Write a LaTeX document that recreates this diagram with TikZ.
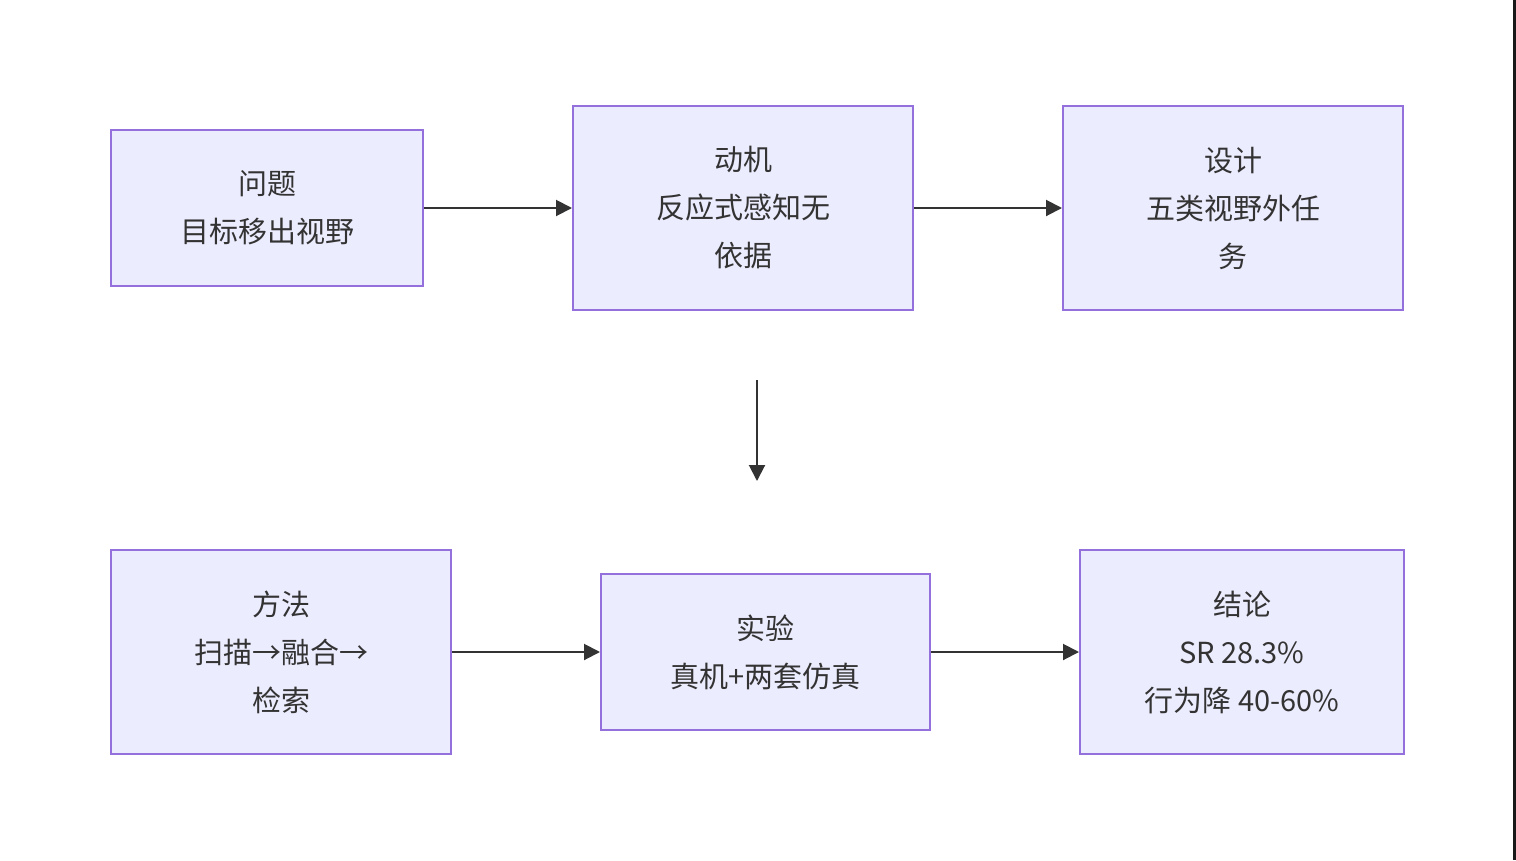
\documentclass[tikz,border=0pt]{standalone}
\usepackage{fontspec}
\setmainfont{Noto Sans CJK SC}
\usetikzlibrary{arrows.meta}
\definecolor{bfill}{HTML}{ECECFF}
\definecolor{bdraw}{HTML}{9370DB}
\definecolor{ln}{HTML}{333333}
\begin{document}
\begin{tikzpicture}[x=1pt,y=-1pt,
  box/.style={draw=bdraw,fill=bfill,line width=2pt,inner sep=0pt,align=center,
    font=\fontsize{29}{48}\selectfont,text=ln},
  arr/.style={draw=ln,line width=2pt,-{Triangle[length=16pt,width=16pt]}}]
\useasboundingbox (0,0) rectangle (1516,860);
\fill[white] (0,0) rectangle (1516,860);
\fill[black!90] (1513,0) rectangle (1516,860);
\newcommand{\bx}[6]{\node[box,minimum width=#4-#2,minimum height=#5-#3] (#1) at ({(#2+#4)/2},{(#3+#5)/2}) {#6};}
\bx{a}{111}{130}{423}{286}{问题\\目标移出视野}
\bx{b}{573}{106}{913}{310}{动机\\反应式感知无\\依据}
\bx{c}{1063}{106}{1403}{310}{设计\\五类视野外任\\务}
\bx{d}{111}{550}{451}{754}{方法\\扫描→融合→\\检索}
\bx{e}{601}{574}{930}{730}{实验\\真机+两套仿真}
\bx{f}{1080}{550}{1404}{754}{结论\\SR 28.3\%\\行为降 40-60\%}
\coordinate (p) at (757,380);
\coordinate (q) at (757,481);
\draw[arr] (a) -- (b);
\draw[arr] (b) -- (c);
\draw[arr] (p) -- (q);
\draw[arr] (d.east) -- (d.east -| e.west);
\draw[arr] (e.east) -- (e.east -| f.west);
\end{tikzpicture}
\end{document}
